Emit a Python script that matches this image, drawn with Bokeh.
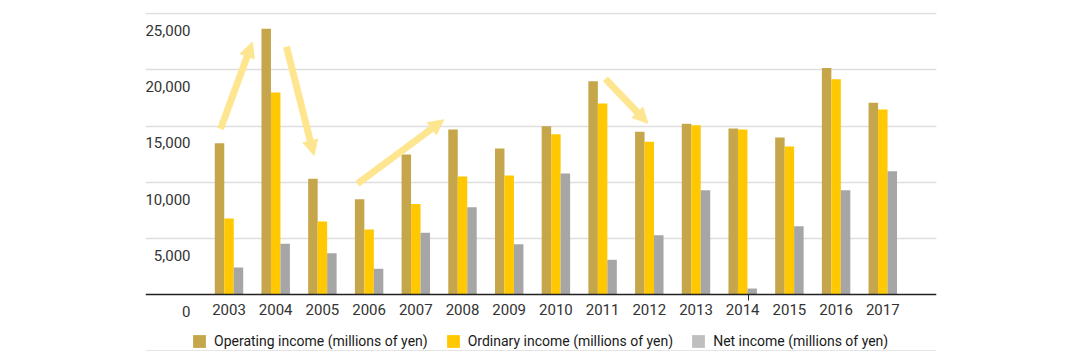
from bokeh.plotting import figure
from bokeh.models import (ColumnDataSource, Range1d, FixedTicker, Grid, LabelSet,
                          Arrow, NormalHead, Legend, LegendItem, LinearAxis)
from bokeh.transform import dodge
from bokeh.core.properties import value
from bokeh.embed import file_html
from bokeh.resources import INLINE

# ---------------- data ----------------
years = [2003, 2004, 2005, 2006, 2007, 2008, 2009, 2010, 2011, 2012, 2013, 2014, 2015, 2016, 2017]
operating_income = [13470, 23660, 10300, 8490, 12470, 14690, 13000, 14990, 18990, 14490, 15200, 14780, 13980, 20180, 17070]
ordinary_income = [6770, 17990, 6500, 5790, 8070, 10510, 10600, 14280, 17010, 13600, 15080, 14690, 13180, 19170, 16470]
net_income = [2400, 4510, 3680, 2290, 5490, 7780, 4480, 10770, 3090, 5280, 9290, 530, 6080, 9290, 10980]

y_ticks = [0, 5000, 10000, 15000, 20000, 25000]
y_tick_labels = ["0", "5,000", "10,000", "15,000", "20,000", "25,000"]

series_labels = ["Operating income (millions of yen)",
                 "Ordinary income (millions of yen)",
                 "Net income (millions of yen)"]

# trend arrows (data coordinates: year, value)
arrow_x_start = [2002.82, 2004.23, 2005.75, 2011.06]
arrow_y_start = [14750, 22080, 9860, 19200]
arrow_x_end = [2003.50, 2004.82, 2007.60, 2011.97]
arrow_y_end = [22470, 12380, 15560, 15250]

# ---------------- style ----------------
FONT = "Roboto"
C_OP = "#C5A64A"
C_ORD = "#FFC800"
C_NET = "#A6A6A6"
C_NET_LEG = "#BFBFBF"
C_ARROW = "#FDE68F"
BAR_W = 0.203

src = ColumnDataSource(dict(year=years, op=operating_income, ord=ordinary_income, net=net_income))

p = figure(width=1064, height=351, output_backend="svg", toolbar_location=None,
           x_range=Range1d(2001.212, 2018.150), y_range=Range1d(-5076, 25116),
           y_axis_location=None,
           min_border_left=145, min_border_right=128, min_border_top=12, min_border_bottom=0)
p.outline_line_color = None
p.xgrid.visible = False

p.add_layout(Grid(dimension=1, ticker=FixedTicker(ticks=y_ticks[1:]),
                  grid_line_color="#DEDEDE", grid_line_width=1.5))

r_op = p.vbar(x=dodge("year", -BAR_W, range=p.x_range), top="op", width=BAR_W, source=src,
              fill_color=C_OP, line_color=None)
r_ord = p.vbar(x=dodge("year", 0, range=p.x_range), top="ord", width=BAR_W, source=src,
               fill_color=C_ORD, line_color=None)
r_net = p.vbar(x=dodge("year", BAR_W, range=p.x_range), top="net", width=BAR_W, source=src,
               fill_color=C_NET, line_color=None)

# x axis, placed at value 0
ax = p.xaxis[0]
ax.fixed_location = 0
ax.ticker = FixedTicker(ticks=years)
ax.major_tick_line_color = None
ax.minor_tick_line_color = None
ax.major_tick_out = 0
ax.major_tick_in = 0
ax.axis_line_color = "#222222"
ax.axis_line_width = 1.5
ax.major_label_standoff = 9
ax.major_label_text_font = FONT
ax.major_label_text_font_size = "15px"
ax.major_label_text_color = "#333333"

# the single small tick mark seen under 2014
tick_axis = LinearAxis(fixed_location=0, ticker=FixedTicker(ticks=[2014.13]),
                       axis_line_color=None, major_tick_out=6, major_tick_in=0,
                       major_tick_line_color="#222222", major_tick_line_width=1,
                       minor_tick_line_color=None, major_label_text_alpha=0)
p.add_layout(tick_axis, "below")

# y tick labels (drawn slightly below their gridlines, as in the original)
ylab_src = ColumnDataSource(dict(
    x=[2002.176] * len(y_ticks),
    y=[t - 1500 for t in y_ticks],
    text=y_tick_labels))
p.add_layout(LabelSet(x="x", y="y", text="text", source=ylab_src,
                      text_align="right", text_baseline="middle",
                      text_font=value(FONT), text_font_size="15px", text_color="#333333"))

# arrows
arr_src = ColumnDataSource(dict(x0=arrow_x_start, y0=arrow_y_start, x1=arrow_x_end, y1=arrow_y_end))
p.add_layout(Arrow(end=NormalHead(size=15, fill_color=C_ARROW, line_color=C_ARROW, line_width=1),
                   source=arr_src, x_start="x0", y_start="y0", x_end="x1", y_end="y1",
                   line_color=C_ARROW, line_width=7))

# legend: the net-income swatch is lighter than its bars, so it gets a zero-height proxy bar
leg_src = ColumnDataSource(dict(x=years[:1], top=[0]))
r_net_leg = p.vbar(x="x", top="top", width=BAR_W, source=leg_src,
                   fill_color=C_NET_LEG, line_color=None)
legend = Legend(items=[LegendItem(label=series_labels[0], renderers=[r_op]),
                       LegendItem(label=series_labels[1], renderers=[r_ord]),
                       LegendItem(label=series_labels[2], renderers=[r_net_leg])],
                orientation="horizontal", location=(46, 2),
                border_line_color=None, background_fill_alpha=0,
                padding=0, margin=0, spacing=17, label_standoff=7,
                glyph_width=16, glyph_height=16, label_height=16,
                label_text_font=FONT, label_text_font_size="14px",
                label_text_color="#1A1A1A")
p.add_layout(legend, "center")

open("out.html", "w").write(file_html(p, INLINE))
